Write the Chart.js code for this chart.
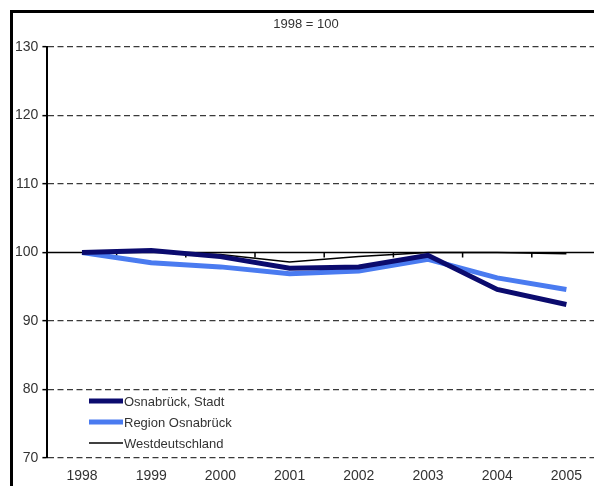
<!DOCTYPE html>
<html>
<head>
<meta charset="utf-8">
<script src="https://cdn.jsdelivr.net/npm/chart.js@4/dist/chart.umd.min.js"></script>
<style>
  html, body { margin: 0; padding: 0; background: #fff; overflow: hidden; }
  #wrap { position: relative; width: 604px; height: 486px; }
  #frame { position: absolute; left: 10px; top: 10px; width: 1000px; height: 1000px;
           border-left: 3px solid #000; border-top: 3px solid #000; }
  #chart { position: absolute; left: 0; top: 0; }
</style>
</head>
<body>
<div id="wrap">
  <div id="frame"></div>
  <canvas id="chart" width="604" height="486"></canvas>
</div>
<script>
// Index values, 1998 = 100
const years = ['1998', '1999', '2000', '2001', '2002', '2003', '2004', '2005'];
const stadt = [100, 100.3, 99.4, 97.7, 97.9, 99.6, 94.6, 92.4];
const region = [100, 98.5, 97.9, 96.9, 97.3, 99.0, 96.3, 94.6];
const west = [100, 100.2, 99.7, 98.6, 99.4, 100.0, 100.0, 99.8];
const baseValue = 100;
const titleText = '1998 = 100';

const FONT = 'Arial, "Liberation Sans", sans-serif';
const TEXT = '#333';

// Draws the solid base line at 100 with its category ticks, the title and the legend
const overlay = {
    id: 'overlay',
    beforeDatasetsDraw(chart) {
        const { ctx, chartArea, scales } = chart;
        const y = scales.y.getPixelForValue(baseValue);
        ctx.save();
        ctx.strokeStyle = '#000';
        ctx.lineWidth = 1.5;
        ctx.beginPath();
        ctx.moveTo(chartArea.left, y);
        ctx.lineTo(chartArea.right, y);
        for (let i = 0; i < years.length; i++) {
            const x = (scales.x.getPixelForValue(i) + scales.x.getPixelForValue(i + 1)) / 2;
            ctx.moveTo(x, y);
            ctx.lineTo(x, y + 5);
        }
        ctx.stroke();
        ctx.restore();
    },
    afterDraw(chart) {
        const { ctx } = chart;
        ctx.save();
        ctx.fillStyle = TEXT;
        ctx.font = '13px ' + FONT;
        ctx.textAlign = 'center';
        ctx.textBaseline = 'middle';
        ctx.fillText(titleText, 306, 24);

        ctx.font = '13px ' + FONT;
        ctx.textAlign = 'left';
        chart.data.datasets.forEach((ds, i) => {
            const ly = 401 + i * 21;
            ctx.strokeStyle = ds.borderColor;
            ctx.lineWidth = ds.borderWidth;
            ctx.beginPath();
            ctx.moveTo(89, ly);
            ctx.lineTo(123, ly);
            ctx.stroke();
            ctx.fillStyle = TEXT;
            ctx.fillText(ds.label, 124, ly + 1);
        });
        ctx.restore();
    }
};

new Chart(document.getElementById('chart'), {
    type: 'line',
    data: {
        labels: years,
        datasets: [
            { label: 'Osnabrück, Stadt', data: stadt, borderColor: '#0b0b6e', borderWidth: 5 },
            { label: 'Region Osnabrück', data: region, borderColor: '#4a7bf0', borderWidth: 5 },
            { label: 'Westdeutschland', data: west, borderColor: '#000', borderWidth: 1.5 }
        ]
    },
    options: {
        responsive: false,
        animation: false,
        layout: { padding: { top: 47, right: 3, left: 0, bottom: 0 } },
        elements: {
            point: { radius: 0 },
            line: { tension: 0, fill: false }
        },
        plugins: {
            legend: { display: false },
            tooltip: { enabled: false },
            title: { display: false }
        },
        scales: {
            x: {
                offset: true,
                afterFit(scale) { scale.height = 28; },
                grid: { display: true, drawOnChartArea: false, drawTicks: false, offset: true },
                border: { display: false },
                ticks: {
                    padding: 10,
                    color: TEXT,
                    font: { size: 14, family: FONT }
                }
            },
            y: {
                min: 70,
                max: 130,
                afterFit(scale) { scale.width = 47.4; },
                ticks: {
                    stepSize: 10,
                    padding: 4,
                    color: TEXT,
                    font: { size: 14, family: FONT }
                },
                grid: {
                    color: (c) => (c.tick && c.tick.value === baseValue ? 'rgba(0,0,0,0)' : '#3a3a3a'),
                    lineWidth: 1.3,
                    tickLength: 5,
                    tickColor: '#000',
                    tickWidth: 1.5,
                    tickBorderDash: []
                },
                border: { display: true, color: '#000', width: 2, dash: [6, 3.5] }
            }
        }
    },
    plugins: [overlay]
});
</script>
</body>
</html>
